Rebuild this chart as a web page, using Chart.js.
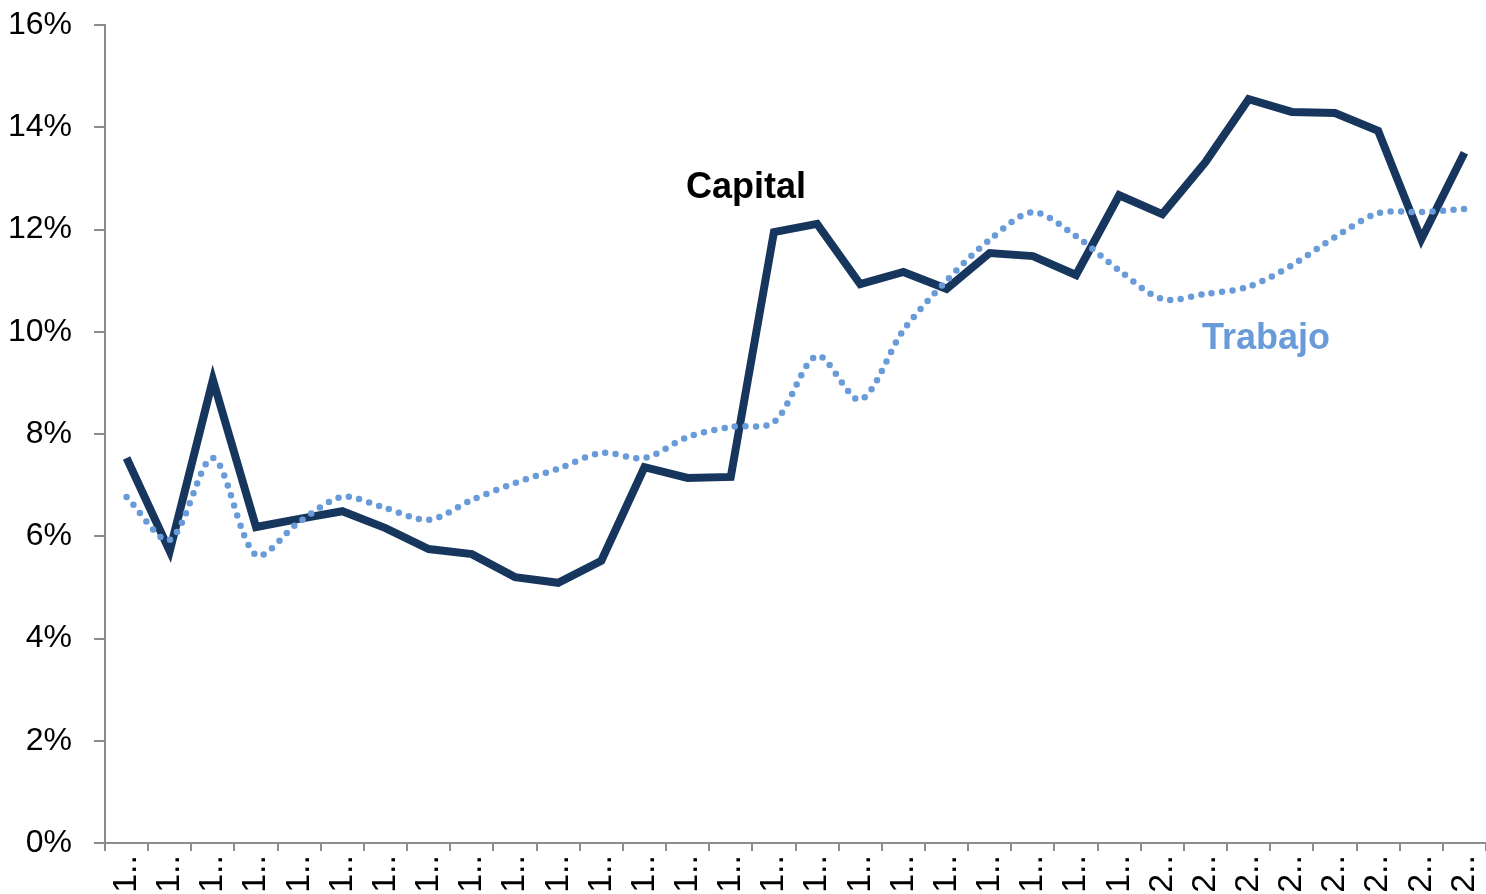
<!DOCTYPE html>
<html>
<head>
<meta charset="utf-8">
<script src="https://cdn.jsdelivr.net/npm/chart.js@4/dist/chart.umd.min.js"></script>
<style>
  html, body { margin: 0; padding: 0; background: #fff; }
  #wrap { width: 1486px; height: 894px; }
</style>
</head>
<body>
<div id="wrap"><canvas id="graf" width="1486" height="894"></canvas></div>
<script>
// etiquetas (truncadas como en el original)
var categorias = [
  '1..','1..','1..','1..','1..','1..','1..','1..','1..','1..','1..','1..',
  '1..','1..','1..','1..','1..','1..','1..','1..','1..','1..','1..','1..',
  '2..','2..','2..','2..','2..','2..','2..','2..'
]

// valores en %
var capital = [
  7.53, 5.71, 9.06, 6.18, 6.34, 6.49, 6.16, 5.75, 5.65, 5.20, 5.09, 5.52,
  7.35, 7.14, 7.16, 11.95, 12.11, 10.93, 11.17, 10.84, 11.54, 11.48, 11.11, 12.67,
  12.30, 13.32, 14.55, 14.30, 14.28, 13.93, 11.81, 13.50
]

var trabajo = [
  6.77, 5.93, 7.53, 5.63, 6.28, 6.77, 6.55, 6.32, 6.71, 7.04, 7.32, 7.63,
  7.53, 7.94, 8.14, 8.23, 9.53, 8.67, 10.03, 11.00, 11.80, 12.34, 11.87, 11.20,
  10.64, 10.74, 10.88, 11.30, 11.85, 12.32, 12.34, 12.40
]

var yTicks = [0, 2, 4, 6, 8, 10, 12, 14, 16]

var colorCapital = '#17365D'
var colorTrabajo = '#6A9BD9'
var colorEje = '#8C8C8C'
var fuenteEjes = '"Liberation Sans Narrow", "Liberation Sans", Arial, sans-serif'

// etiquetas de las series dentro del grafico
var etiquetasSeries = {
  id: 'etiquetasSeries',
  afterDatasetsDraw: function(chart){
    var ctx = chart.ctx
    ctx.save()
    ctx.font = 'bold 36px "Liberation Sans", Arial, sans-serif'
    ctx.textBaseline = 'alphabetic'
    ctx.textAlign = 'left'
    ctx.fillStyle = '#000'
    ctx.fillText('Capital', 686, 198)
    ctx.fillStyle = colorTrabajo
    ctx.fillText('Trabajo', 1202, 349)
    ctx.restore()
  }
}

// quita el relleno extra que Chart.js reserva para las etiquetas
function sinRelleno(scale){
  scale.paddingTop = 0
  scale.paddingBottom = 0
  scale.paddingLeft = 0
  scale.paddingRight = 0
}

new Chart(document.getElementById('graf').getContext('2d'), {
  type: 'line',
  data: {
    labels: categorias,
    datasets: [
      {
        label: 'Trabajo',
        data: trabajo,
        borderColor: colorTrabajo,
        borderWidth: 6.5,
        borderDash: [0, 10.5],
        borderCapStyle: 'round',
        tension: 0.3,
        pointRadius: 0,
        fill: false
      },
      {
        label: 'Capital',
        data: capital,
        borderColor: colorCapital,
        borderWidth: 8,
        borderJoinStyle: 'miter',
        tension: 0,
        pointRadius: 0,
        fill: false
      }
    ]
  },
  options: {
    responsive: false,
    animation: false,
    layout: { padding: { top: 25, right: 0, left: 0, bottom: 0 } },
    plugins: {
      legend: { display: false },
      tooltip: { enabled: false }
    },
    scales: {
      x: {
        type: 'category',
        offset: true,
        grid: {
          offset: true,
          drawOnChartArea: false,
          drawTicks: true,
          tickLength: 8,
          color: colorEje,
          lineWidth: 2
        },
        border: { color: colorEje, width: 2 },
        ticks: {
          autoSkip: false,
          minRotation: 90,
          maxRotation: 90,
          padding: 4,
          color: '#000',
          font: { family: fuenteEjes, size: 34 }
        },
        afterFit: function(scale){
          scale.height = 51
          sinRelleno(scale)
        }
      },
      y: {
        min: 0,
        max: 16,
        afterBuildTicks: function(scale){
          scale.ticks = yTicks.map(function(v){ return { value: v } })
        },
        grid: {
          drawOnChartArea: false,
          drawTicks: true,
          tickLength: 11,
          color: colorEje,
          lineWidth: 2
        },
        border: { color: colorEje, width: 2 },
        ticks: {
          padding: 22,
          color: '#000',
          font: { family: fuenteEjes, size: 32 },
          callback: function(v){ return v + '%' }
        },
        afterFit: function(scale){
          scale.width = 105
          sinRelleno(scale)
        }
      }
    }
  },
  plugins: [etiquetasSeries]
})
</script>
</body>
</html>
